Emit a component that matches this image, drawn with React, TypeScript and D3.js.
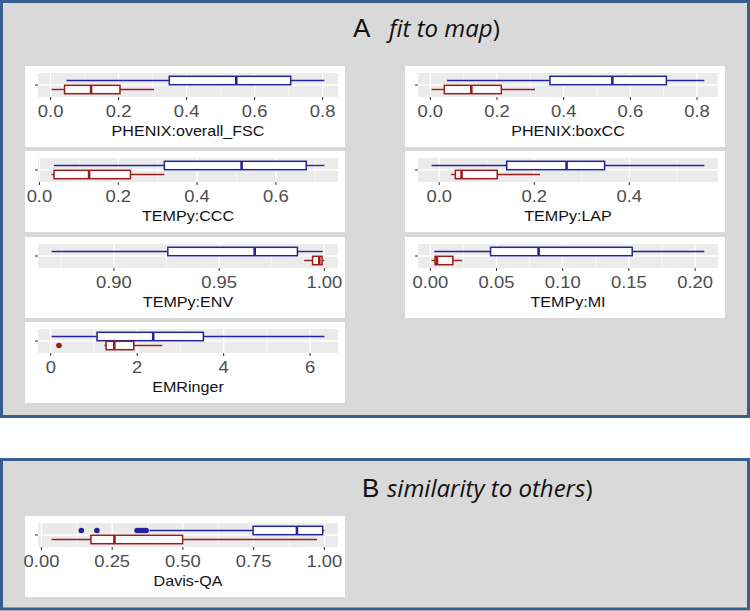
import React from "react";
import * as d3 from "d3";

const metricNames = [
  "PHENIX:overall_FSC",
  "PHENIX:boxCC",
  "TEMPy:CCC",
  "TEMPy:LAP",
  "TEMPy:ENV",
  "TEMPy:MI",
  "EMRinger",
  "Davis-QA",
];

// [whisker low, Q1, median, Q3, whisker high]
const blueBoxes = [
  [0.047, 0.349, 0.546, 0.706, 0.805],
  [0.05, 0.359, 0.546, 0.708, 0.822],
  [0.037, 0.317, 0.513, 0.677, 0.723],
  [-0.016, 0.142, 0.268, 0.348, 0.558],
  [0.8704, 0.9256, 0.9669, 0.9872, 0.9992],
  [0.003, 0.0455, 0.0818, 0.1525, 0.207],
  [0.02, 1.07, 2.37, 3.53, 6.33],
  [0.382, 0.748, 0.903, 0.994, 1.0],
];
const redBoxes = [
  [0.003, 0.041, 0.119, 0.204, 0.304],
  [0.004, 0.042, 0.123, 0.213, 0.314],
  [0.031, 0.037, 0.126, 0.231, 0.317],
  [0.025, 0.034, 0.047, 0.122, 0.212],
  [0.9904, 0.9944, 0.9976, 0.9989, 1.0],
  [0.001, 0.0036, 0.005, 0.017, 0.024],
  [1.24, 1.28, 1.47, 1.92, 2.58],
  [0.036, 0.175, 0.258, 0.499, 0.974],
];
const blueOutliers = [[], [], [], [], [], [], [], [0.141, 0.196, 0.338, 0.347, 0.355, 0.362, 0.37]];
const redOutliers = [[], [], [], [], [], [], [0.19], []];

const tickValues = [
  [0, 0.2, 0.4, 0.6, 0.8],
  [0, 0.2, 0.4, 0.6, 0.8],
  [0, 0.2, 0.4, 0.6],
  [0, 0.2, 0.4],
  [0.9, 0.95, 1.0],
  [0, 0.05, 0.1, 0.15, 0.2],
  [0, 2, 4, 6],
  [0, 0.25, 0.5, 0.75, 1.0],
];
const tickLabels = [
  ["0.0", "0.2", "0.4", "0.6", "0.8"],
  ["0.0", "0.2", "0.4", "0.6", "0.8"],
  ["0.0", "0.2", "0.4", "0.6"],
  ["0.0", "0.2", "0.4"],
  ["0.90", "0.95", "1.00"],
  ["0.00", "0.05", "0.10", "0.15", "0.20"],
  ["0", "2", "4", "6"],
  ["0.00", "0.25", "0.50", "0.75", "1.00"],
];

const cardPos = [
  { x: 25, y: 66 },
  { x: 405, y: 66 },
  { x: 25, y: 151 },
  { x: 405, y: 151 },
  { x: 25, y: 237 },
  { x: 405, y: 237 },
  { x: 25, y: 322 },
  { x: 25, y: 516 },
];

const BLUE = "#24249a";
const RED = "#9c1c1c";
const BORDER = "#3a5f8e";

function BoxPlot({ i }: { i: number }) {
  const { x: cx, y: cy } = cardPos[i];
  const cardW = 320;
  const cardH = 81;
  const pl = cx + 13;
  const pr = cx + 313;
  const pt = cy + 7;
  const pb = cy + 31;
  const all = [...blueBoxes[i], ...redBoxes[i], ...blueOutliers[i], ...redOutliers[i]];
  const [mn, mx] = d3.extent(all) as [number, number];
  const r = mx - mn;
  const xs = d3.scaleLinear().domain([mn - 0.05 * r, mx + 0.05 * r]).range([pl, pr]);
  const ys = d3.scaleLinear().domain([0.4, 1.6]).range([pb, pt]);
  const majors = tickValues[i];
  const step = majors[1] - majors[0];
  const ext = [majors[0] - step, ...majors, majors[majors.length - 1] + step];
  const minors: number[] = [];
  for (let k = 0; k < ext.length - 1; k++) {
    const m = (ext[k] + ext[k + 1]) / 2;
    const [d0, d1] = xs.domain();
    if (m > d0 && m < d1) minors.push(m);
  }
  const half = 0.21;
  const groups = [
    { s: blueBoxes[i], o: blueOutliers[i], c: 1.225, col: BLUE },
    { s: redBoxes[i], o: redOutliers[i], c: 0.775, col: RED },
  ];
  return (
    <g>
      <rect x={cx} y={cy} width={cardW} height={cardH} fill="#ffffff" />
      <rect x={pl} y={pt} width={pr - pl} height={pb - pt} fill="#ebebeb" />
      {minors.map((m, k) => (
        <line key={"mi" + k} x1={xs(m)} x2={xs(m)} y1={pt} y2={pb} stroke="#fff" strokeWidth={0.6} />
      ))}
      {majors.map((m, k) => (
        <line key={"ma" + k} x1={xs(m)} x2={xs(m)} y1={pt} y2={pb} stroke="#fff" strokeWidth={1.3} />
      ))}
      <line x1={pl} x2={pr} y1={ys(1)} y2={ys(1)} stroke="#fff" strokeWidth={1.3} />
      {groups.map((g, k) => {
        const [lo, q1, md, q3, hi] = g.s;
        const yc = ys(g.c);
        const y0 = ys(g.c + half);
        const y1 = ys(g.c - half);
        return (
          <g key={"g" + k}>
            <line x1={xs(lo)} x2={xs(q1)} y1={yc} y2={yc} stroke={g.col} strokeWidth={1.4} />
            <line x1={xs(q3)} x2={xs(hi)} y1={yc} y2={yc} stroke={g.col} strokeWidth={1.4} />
            <rect x={xs(q1)} y={y0} width={xs(q3) - xs(q1)} height={y1 - y0} fill="#fff" stroke={g.col} strokeWidth={1.5} />
            <line x1={xs(md)} x2={xs(md)} y1={y0} y2={y1} stroke={g.col} strokeWidth={2.6} />
            {g.o.map((v, j) => (
              <circle key={j} cx={xs(v)} cy={yc} r={2.8} fill={g.col} />
            ))}
          </g>
        );
      })}
      <line x1={pl - 3} x2={pl} y1={ys(1)} y2={ys(1)} stroke="#333" strokeWidth={1} />
      {majors.map((m, k) => (
        <g key={"t" + k}>
          <line x1={xs(m)} x2={xs(m)} y1={pb} y2={pb + 3} stroke="#333" strokeWidth={1} />
          <text
            transform={`translate(${xs(m)},${cy + 51}) scale(1.15,1)`}
            textAnchor="middle"
            fontFamily="Liberation Sans, Arial, sans-serif"
            fontSize={16}
            fill="#4d4d4d"
          >
            {tickLabels[i][k]}
          </text>
        </g>
      ))}
      <text
        transform={`translate(${(pl + pr) / 2},${cy + 70}) scale(1.15,1)`}
        textAnchor="middle"
        fontFamily="Liberation Sans, Arial, sans-serif"
        fontSize={14}
        fill="#111"
      >
        {metricNames[i]}
      </text>
    </g>
  );
}

export default function App() {
  return (
    <div style={{ position: "absolute", left: 0, top: 0 }}>
      <svg width={750} height={611} style={{ display: "block", background: "#fff" }}>
        <rect x={1.5} y={1.5} width={747} height={415} fill="#d9d9d9" stroke={BORDER} strokeWidth={3} />
        <rect x={1.5} y={459.5} width={747} height={149.5} fill="#d9d9d9" stroke={BORDER} strokeWidth={3} />
        <text x={353} y={37} fontFamily="Liberation Sans, Arial, sans-serif" fontSize={26} fill="#111">A</text>
        <text x={389} y={37} fontFamily="Open Sans, sans-serif" fontSize={24} fill="#111">
          <tspan fontStyle="italic">fit to map</tspan>
          <tspan>)</tspan>
        </text>
        <text x={362} y={497} fontFamily="Liberation Sans, Arial, sans-serif" fontSize={26} fill="#111">B</text>
        <text x={387} y={497} fontFamily="Open Sans, sans-serif" fontSize={24} fill="#111">
          <tspan fontStyle="italic">similarity to others</tspan>
          <tspan>)</tspan>
        </text>
        {metricNames.map((_, i) => (
          <BoxPlot key={i} i={i} />
        ))}
      </svg>
    </div>
  );
}
